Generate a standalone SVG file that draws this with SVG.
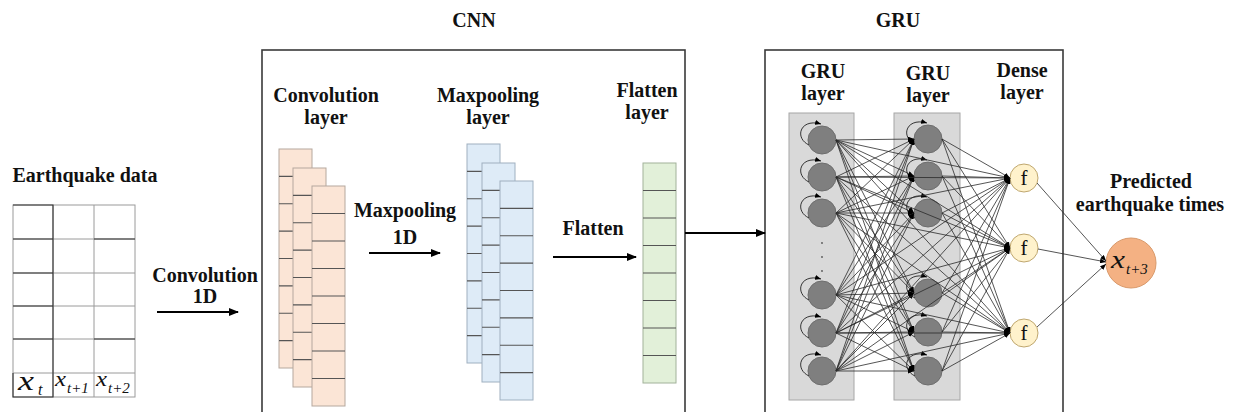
<svg xmlns="http://www.w3.org/2000/svg" width="1236" height="412" viewBox="0 0 1236 412">
<style>
.t{font-family:"Liberation Serif","Times New Roman",serif;font-weight:bold;font-size:20px;fill:#111;text-anchor:middle}
.m{font-family:"Liberation Serif","Times New Roman",serif;font-style:italic;font-weight:normal;fill:#111}
.f{font-family:"Liberation Serif","Times New Roman",serif;font-style:normal;font-weight:normal;font-size:21px;fill:#111;text-anchor:middle}
.box{fill:none;stroke:#3a3a3a;stroke-width:1.6}
.cell{fill:#fff;stroke:#9a9a9a;stroke-width:1}
.or{fill:#fbe5d6;stroke:#b5a89e;stroke-width:1}
.bl{fill:#deebf7;stroke:#9fb0c0;stroke-width:1}
.gr{fill:#e2f0d9;stroke:#a2b29a;stroke-width:1}
.div{stroke:#555;stroke-width:1.1}
.grect{fill:#d9d9d9;stroke:#a6a6a6;stroke-width:1}
.node{fill:#7f7f7f;stroke:#6e6e6e;stroke-width:1}
.fn{fill:#fff2cc;stroke:#bfa76f;stroke-width:1}
.out{fill:#f4b183;stroke:#d9996a;stroke-width:1}
.arr{stroke:#000;stroke-width:2;fill:none;marker-end:url(#big)}
.c{stroke:#2a2a2a;stroke-width:0.8;fill:none;marker-end:url(#sm)}
.loop{stroke:#333;stroke-width:1;fill:none;marker-end:url(#sm)}
</style>
<defs>
<marker id="big" markerUnits="userSpaceOnUse" markerWidth="10" markerHeight="8" refX="9" refY="4" orient="auto"><path d="M0,0 L10,4 L0,8 Z" fill="#000"/></marker>
<marker id="sm" markerUnits="userSpaceOnUse" markerWidth="6" markerHeight="5" refX="6" refY="2.5" orient="auto"><path d="M0,0 L6,2.5 L0,5 Z" fill="#000"/></marker>
</defs>
<rect width="1236" height="412" fill="#fff"/>

<g id="titles">
<text class="t" x="474" y="27">CNN</text>
<text class="t" x="898" y="27">GRU</text>
</g>

<g id="cnn-box"><rect class="box" x="262" y="50" width="423" height="380"/></g>
<g id="gru-box"><rect class="box" x="765" y="50" width="298" height="380"/></g>

<g id="earthquake-data">
<text class="t" x="85" y="182">Earthquake data</text>
<rect class="cell" x="13" y="205" width="122" height="192"/>
<path d="M53,205V397M94,205V397M13,239H135M13,273H135M13,306H135M13,339H135M13,373H135" stroke="#9a9a9a" stroke-width="1"/>
<path d="M13,205H53V373M13,239H53M13,273H53M13,306H53M13,339H53M94,239H135M94,339H135M13,373V397H53V373" stroke="#333" stroke-width="1.1" fill="none"/>
<text class="m" x="18" y="390" font-size="28" textLength="16" lengthAdjust="spacingAndGlyphs">x</text>
<text class="m" x="38" y="395" font-size="16">t</text>
<text class="m" x="55" y="386" font-size="22" textLength="11" lengthAdjust="spacingAndGlyphs">x</text>
<text class="m" x="67" y="393" font-size="15">t+1</text>
<text class="m" x="96" y="386" font-size="22" textLength="11" lengthAdjust="spacingAndGlyphs">x</text>
<text class="m" x="108" y="393" font-size="15">t+2</text>
</g>

<g id="conv-layer">
<text class="t" x="326" y="102">Convolution</text>
<text class="t" x="326" y="124">layer</text>
<rect class="or" x="279" y="149" width="33" height="219"/>
<path class="div" d="M279,176.4H312M279,203.8H312M279,231.1H312M279,258.5H312M279,285.9H312M279,313.3H312M279,340.6H312"/>
<rect class="or" x="293" y="168" width="33" height="219"/>
<path class="div" d="M293,195.4H326M293,222.8H326M293,250.1H326M293,277.5H326M293,304.9H326M293,332.3H326M293,359.6H326"/>
<rect class="or" x="312" y="186" width="33" height="220"/>
<path class="div" d="M312,213.5H345M312,241H345M312,268.5H345M312,296H345M312,323.5H345M312,351H345M312,378.5H345"/>
</g>

<g id="maxpool-layer">
<text class="t" x="488" y="102">Maxpooling</text>
<text class="t" x="488" y="124">layer</text>
<rect class="bl" x="467" y="144" width="33" height="219"/>
<path class="div" d="M467,171.4H500M467,198.8H500M467,226.1H500M467,253.5H500M467,280.9H500M467,308.3H500M467,335.6H500"/>
<rect class="bl" x="482" y="163" width="33" height="219"/>
<path class="div" d="M482,190.4H515M482,217.8H515M482,245.1H515M482,272.5H515M482,299.9H515M482,327.3H515M482,354.6H515"/>
<rect class="bl" x="500" y="181" width="33" height="219"/>
<path class="div" d="M500,208.4H533M500,235.8H533M500,263.1H533M500,290.5H533M500,317.9H533M500,345.3H533M500,372.6H533"/>
</g>

<g id="flatten-layer">
<text class="t" x="647" y="97">Flatten</text>
<text class="t" x="647" y="119">layer</text>
<rect class="gr" x="643" y="163" width="33" height="220"/>
<path class="div" d="M643,190.5H676M643,218H676M643,245.5H676M643,273H676M643,300.5H676M643,328H676M643,355.5H676"/>
</g>

<g id="op-labels">
<text class="t" x="205" y="282">Convolution</text>
<text class="t" x="205" y="303">1D</text>
<text class="t" x="405" y="217">Maxpooling</text>
<text class="t" x="405" y="244">1D</text>
<text class="t" x="593" y="235">Flatten</text>
</g>

<g id="gru-layer-1">
<text class="t" x="823" y="78">GRU</text>
<text class="t" x="823" y="100">layer</text>
<rect class="grect" x="789" y="113" width="65" height="287"/>
<circle class="node" cx="822" cy="140" r="14"/>
<circle class="node" cx="822" cy="177" r="14"/>
<circle class="node" cx="822" cy="213" r="14"/>
<circle class="node" cx="822" cy="295" r="14"/>
<circle class="node" cx="822" cy="333" r="14"/>
<circle class="node" cx="822" cy="371" r="14"/>
<circle cx="822" cy="243" r="0.9" fill="#555"/>
<circle cx="822" cy="257" r="0.9" fill="#555"/>
<circle cx="822" cy="271" r="0.9" fill="#555"/>
</g>

<g id="gru-layer-2">
<text class="t" x="928" y="80">GRU</text>
<text class="t" x="928" y="102">layer</text>
<rect class="grect" x="894" y="113" width="66" height="287"/>
<circle class="node" cx="928" cy="139" r="14"/>
<circle class="node" cx="928" cy="176" r="14"/>
<circle class="node" cx="928" cy="213" r="14"/>
<circle class="node" cx="928" cy="293" r="14"/>
<circle class="node" cx="928" cy="332" r="14"/>
<circle class="node" cx="928" cy="371" r="14"/>
</g>

<g id="dense-layer">
<text class="t" x="1022" y="77">Dense</text>
<text class="t" x="1022" y="99">layer</text>
<circle class="fn" cx="1024" cy="178" r="14"/>
<circle class="fn" cx="1024" cy="248" r="14"/>
<circle class="fn" cx="1024" cy="333" r="14"/>
<text class="f" x="1024" y="185">f</text>
<text class="f" x="1024" y="255">f</text>
<text class="f" x="1024" y="340">f</text>
</g>

<g id="output">
<text class="t" x="1151" y="188">Predicted</text>
<text class="t" x="1150" y="211">earthquake times</text>
<circle class="out" cx="1131" cy="263" r="25"/>
<text class="m" x="1111" y="268" font-size="25" textLength="14" lengthAdjust="spacingAndGlyphs">x</text>
<text class="m" x="1126" y="274" font-size="15">t+3</text>
</g>

<g id="connectors">
<line class="arr" x1="157" y1="312" x2="238" y2="312"/>
<line class="arr" x1="369" y1="253" x2="440" y2="253"/>
<line class="arr" x1="553" y1="257" x2="636" y2="257"/>
<line class="arr" x1="685" y1="233" x2="765" y2="233"/>

<path class="loop" d="M809,145 C794,138 800,118 821,124"/>
<path class="loop" d="M809,182 C794,175 800,155 821,161"/>
<path class="loop" d="M809,218 C794,211 800,191 821,197"/>
<path class="loop" d="M809,300 C794,293 800,273 821,279"/>
<path class="loop" d="M809,338 C794,331 800,311 821,317"/>
<path class="loop" d="M809,376 C794,369 800,349 821,355"/>
<path class="loop" d="M915,144 C900,137 906,117 927,123"/>
<path class="loop" d="M915,181 C900,174 906,154 927,160"/>
<path class="loop" d="M915,218 C900,211 906,191 927,197"/>
<path class="loop" d="M915,298 C900,291 906,271 927,277"/>
<path class="loop" d="M915,337 C900,330 906,310 927,316"/>
<path class="loop" d="M915,376 C900,369 906,349 927,355"/>

<line class="c" x1="836" y1="140" x2="914" y2="139"/>
<line class="c" x1="836" y1="140" x2="914" y2="176"/>
<line class="c" x1="836" y1="140" x2="914" y2="213"/>
<line class="c" x1="836" y1="140" x2="914" y2="293"/>
<line class="c" x1="836" y1="140" x2="914" y2="332"/>
<line class="c" x1="836" y1="140" x2="914" y2="371"/>
<line class="c" x1="836" y1="177" x2="914" y2="139"/>
<line class="c" x1="836" y1="177" x2="914" y2="176"/>
<line class="c" x1="836" y1="177" x2="914" y2="213"/>
<line class="c" x1="836" y1="177" x2="914" y2="293"/>
<line class="c" x1="836" y1="177" x2="914" y2="332"/>
<line class="c" x1="836" y1="177" x2="914" y2="371"/>
<line class="c" x1="836" y1="213" x2="914" y2="139"/>
<line class="c" x1="836" y1="213" x2="914" y2="176"/>
<line class="c" x1="836" y1="213" x2="914" y2="213"/>
<line class="c" x1="836" y1="213" x2="914" y2="293"/>
<line class="c" x1="836" y1="213" x2="914" y2="332"/>
<line class="c" x1="836" y1="213" x2="914" y2="371"/>
<line class="c" x1="836" y1="295" x2="914" y2="139"/>
<line class="c" x1="836" y1="295" x2="914" y2="176"/>
<line class="c" x1="836" y1="295" x2="914" y2="213"/>
<line class="c" x1="836" y1="295" x2="914" y2="293"/>
<line class="c" x1="836" y1="295" x2="914" y2="332"/>
<line class="c" x1="836" y1="295" x2="914" y2="371"/>
<line class="c" x1="836" y1="333" x2="914" y2="139"/>
<line class="c" x1="836" y1="333" x2="914" y2="176"/>
<line class="c" x1="836" y1="333" x2="914" y2="213"/>
<line class="c" x1="836" y1="333" x2="914" y2="293"/>
<line class="c" x1="836" y1="333" x2="914" y2="332"/>
<line class="c" x1="836" y1="333" x2="914" y2="371"/>
<line class="c" x1="836" y1="371" x2="914" y2="139"/>
<line class="c" x1="836" y1="371" x2="914" y2="176"/>
<line class="c" x1="836" y1="371" x2="914" y2="213"/>
<line class="c" x1="836" y1="371" x2="914" y2="293"/>
<line class="c" x1="836" y1="371" x2="914" y2="332"/>
<line class="c" x1="836" y1="371" x2="914" y2="371"/>

<line class="c" x1="836" y1="140" x2="1010" y2="178"/>
<line class="c" x1="836" y1="140" x2="1010" y2="248"/>
<line class="c" x1="836" y1="140" x2="1010" y2="333"/>
<line class="c" x1="836" y1="177" x2="1010" y2="178"/>
<line class="c" x1="836" y1="177" x2="1010" y2="248"/>
<line class="c" x1="836" y1="177" x2="1010" y2="333"/>
<line class="c" x1="836" y1="213" x2="1010" y2="178"/>
<line class="c" x1="836" y1="213" x2="1010" y2="248"/>
<line class="c" x1="836" y1="213" x2="1010" y2="333"/>
<line class="c" x1="836" y1="295" x2="1010" y2="178"/>
<line class="c" x1="836" y1="295" x2="1010" y2="248"/>
<line class="c" x1="836" y1="295" x2="1010" y2="333"/>
<line class="c" x1="836" y1="333" x2="1010" y2="178"/>
<line class="c" x1="836" y1="333" x2="1010" y2="248"/>
<line class="c" x1="836" y1="333" x2="1010" y2="333"/>
<line class="c" x1="836" y1="371" x2="1010" y2="178"/>
<line class="c" x1="836" y1="371" x2="1010" y2="248"/>
<line class="c" x1="836" y1="371" x2="1010" y2="333"/>

<line class="c" x1="942" y1="139" x2="1010" y2="178"/>
<line class="c" x1="942" y1="139" x2="1010" y2="248"/>
<line class="c" x1="942" y1="139" x2="1010" y2="333"/>
<line class="c" x1="942" y1="176" x2="1010" y2="178"/>
<line class="c" x1="942" y1="176" x2="1010" y2="248"/>
<line class="c" x1="942" y1="176" x2="1010" y2="333"/>
<line class="c" x1="942" y1="213" x2="1010" y2="178"/>
<line class="c" x1="942" y1="213" x2="1010" y2="248"/>
<line class="c" x1="942" y1="213" x2="1010" y2="333"/>
<line class="c" x1="942" y1="293" x2="1010" y2="178"/>
<line class="c" x1="942" y1="293" x2="1010" y2="248"/>
<line class="c" x1="942" y1="293" x2="1010" y2="333"/>
<line class="c" x1="942" y1="332" x2="1010" y2="178"/>
<line class="c" x1="942" y1="332" x2="1010" y2="248"/>
<line class="c" x1="942" y1="332" x2="1010" y2="333"/>
<line class="c" x1="942" y1="371" x2="1010" y2="178"/>
<line class="c" x1="942" y1="371" x2="1010" y2="248"/>
<line class="c" x1="942" y1="371" x2="1010" y2="333"/>

<line class="c" x1="1037" y1="183" x2="1106" y2="261"/>
<line class="c" x1="1038" y1="249" x2="1106" y2="262"/>
<line class="c" x1="1037" y1="327" x2="1106" y2="264"/>
</g>
</svg>
